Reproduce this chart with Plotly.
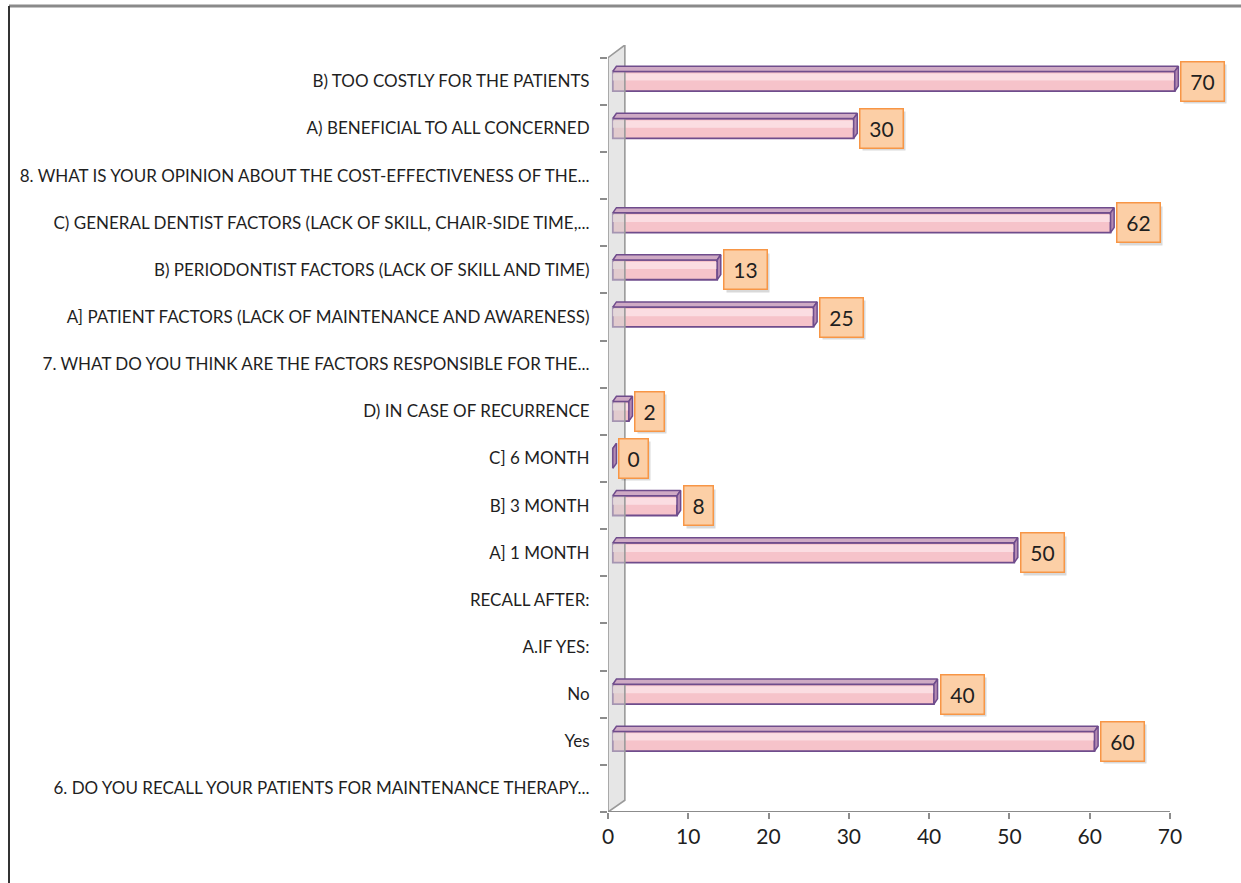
import plotly.graph_objects as go

# Survey responses, listed bottom-to-top as they appear on the chart
labels = [
    "6. DO YOU RECALL YOUR PATIENTS FOR MAINTENANCE THERAPY...",
    "Yes",
    "No",
    "A.IF YES:",
    "RECALL AFTER:",
    "A] 1 MONTH",
    "B] 3 MONTH",
    "C] 6 MONTH",
    "D) IN CASE OF RECURRENCE",
    "7. WHAT DO YOU THINK ARE THE FACTORS RESPONSIBLE FOR THE...",
    "A] PATIENT FACTORS (LACK OF MAINTENANCE AND AWARENESS)",
    "B) PERIODONTIST FACTORS (LACK OF SKILL AND TIME)",
    "C) GENERAL DENTIST FACTORS (LACK OF SKILL, CHAIR-SIDE TIME,...",
    "8. WHAT IS YOUR OPINION ABOUT THE COST-EFFECTIVENESS OF THE...",
    "A) BENEFICIAL TO ALL CONCERNED",
    "B) TOO COSTLY FOR THE PATIENTS",
]
values = [None, 60, 40, None, None, 50, 8, 0, 2, None, 25, 13, 62, None, 30, 70]
x_ticks = [0, 10, 20, 30, 40, 50, 60, 70]

positions = list(range(len(labels)))

# 3-D look parameters (in data units)
BASE = 0.6      # bars start just behind the side wall
BAR_H = 0.42    # thickness of the front face
DX = 0.45       # depth shift to the right
DY = 0.11       # depth shift upwards
WALL_W = 2.1
Y_TOP = len(labels) - 0.5 + 0.27

TEXT_FONT = "Lato, 'Open Sans', sans-serif"

fig = go.Figure()

# side wall of the 3-D chart
fig.add_trace(go.Scatter(
    x=[0, 0, WALL_W, WALL_W, 0],
    y=[-0.5, len(labels) - 0.5, Y_TOP, -0.5 + 0.25, -0.5],
    mode="lines", fill="toself",
    fillcolor="rgba(210,210,210,0.55)",
    line=dict(color="#9a9a9a", width=1.6),
    hoverinfo="skip", showlegend=False,
))

# front faces of the bars
bar_y = [p for p, v in zip(positions, values) if v is not None]
bar_x = [v for v in values if v is not None]
fig.add_trace(go.Bar(
    x=bar_x, y=bar_y, base=BASE, orientation="h", width=BAR_H,
    marker=dict(color="#f6c3ca", line=dict(color="#6f4c8c", width=1.8)),
    hoverinfo="skip", showlegend=False,
))
# softer highlight along the upper part of the front face
fig.add_trace(go.Bar(
    x=bar_x, y=[p + BAR_H * 0.22 for p in bar_y], base=BASE, orientation="h",
    width=BAR_H * 0.36,
    marker=dict(color="rgba(252,226,230,0.85)", line=dict(width=0)),
    hoverinfo="skip", showlegend=False,
))

# top and end faces, computed from each bar's value
top_x, top_y, side_x, side_y = [], [], [], []
for p, v in zip(bar_y, bar_x):
    lo, hi = p - BAR_H / 2, p + BAR_H / 2
    x0, x1 = BASE, BASE + v
    top_x += [x0, x1, x1 + DX, x0 + DX, x0, None]
    top_y += [hi, hi, hi + DY, hi + DY, hi, None]
    side_x += [x1, x1 + DX, x1 + DX, x1, x1, None]
    side_y += [lo, lo + DY, hi + DY, hi, lo, None]

fig.add_trace(go.Scatter(
    x=top_x, y=top_y, mode="lines", fill="toself",
    fillcolor="#cfaac4", line=dict(color="#6f4c8c", width=1.5),
    hoverinfo="skip", showlegend=False,
))
fig.add_trace(go.Scatter(
    x=side_x, y=side_y, mode="lines", fill="toself",
    fillcolor="#b48ab2", line=dict(color="#6f4c8c", width=1.5),
    hoverinfo="skip", showlegend=False,
))

# value call-outs with a soft drop shadow
annotations = []
for p, v in zip(bar_y, bar_x):
    ax = BASE + v + DX + 0.25
    box_w = 22 if v < 10 else 36
    annotations.append(dict(
        x=ax, y=p, xref="x", yref="y", xanchor="left", yanchor="middle",
        text=" ", showarrow=False, width=box_w + 4, height=36,
        bgcolor="rgba(0,0,0,0.15)", xshift=3, yshift=-3,
    ))
    annotations.append(dict(
        x=ax, y=p, xref="x", yref="y", xanchor="left", yanchor="middle",
        text=str(v), showarrow=False, width=box_w + 4, height=36,
        bgcolor="#fccfa6", bordercolor="#f79646", borderwidth=1.5,
        font=dict(family=TEXT_FONT, size=21, color="#1f1f1f"),
    ))

# x axis base line and chart frame
shapes = [
    dict(type="line", xref="x", yref="y", x0=0, x1=70, y0=-0.5, y1=-0.5,
         line=dict(color="#8c8c8c", width=2)),
    dict(type="line", xref="paper", yref="paper",
         x0=(9 - 608) / 574, x1=(1241 - 608) / 574,
         y0=(812 - 6) / 767, y1=(812 - 6) / 767,
         line=dict(color="#8a8a8a", width=3)),
    dict(type="line", xref="paper", yref="paper",
         x0=(9 - 608) / 574, x1=(9 - 608) / 574,
         y0=(812 - 6) / 767, y1=(812 - 883) / 767,
         line=dict(color="#333333", width=2)),
]

fig.update_layout(
    width=1241, height=883, autosize=False,
    margin=dict(l=608, r=59, t=45, b=71),
    paper_bgcolor="white", plot_bgcolor="white",
    barmode="overlay",
    annotations=annotations, shapes=shapes,
    font=dict(family=TEXT_FONT, color="#1f1f1f"),
)
fig.update_xaxes(
    range=[0, 71.5], tickvals=x_ticks, ticks="outside", ticklen=6,
    tickcolor="#8c8c8c", tickwidth=1.5, showgrid=False, zeroline=False,
    showline=False, tickfont=dict(family=TEXT_FONT, size=21, color="#1f1f1f"),
)
fig.update_yaxes(
    range=[-0.5, Y_TOP], tickvals=positions, ticktext=labels,
    ticks="outside", ticklen=0, tickcolor="rgba(0,0,0,0)",
    ticklabelstandoff=14,
    minor=dict(tickvals=[p - 0.5 for p in positions] + [len(labels) - 0.5],
               ticks="outside", ticklen=7, tickcolor="#8c8c8c", tickwidth=1.5),
    showgrid=False, zeroline=False, showline=False,
    tickfont=dict(family=TEXT_FONT, size=17, color="#1f1f1f"),
)

fig.write_html("out.html")
